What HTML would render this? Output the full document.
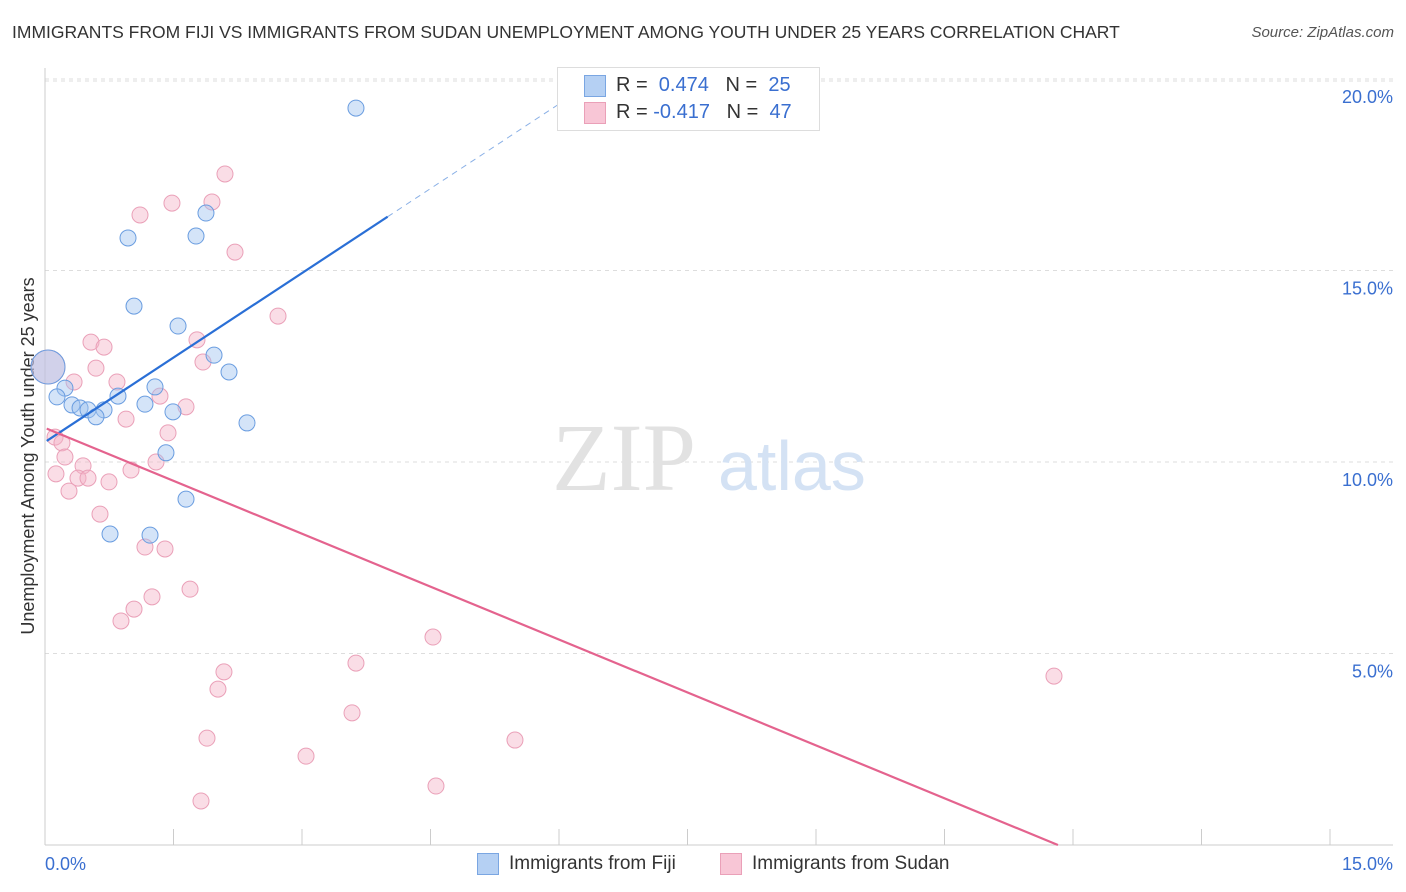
<!DOCTYPE html>
<html><head><meta charset="utf-8"><style>
body{margin:0;background:#fff;font-family:"Liberation Sans",sans-serif;}
#wrap{position:relative;width:1406px;height:892px;overflow:hidden}
.t{position:absolute;white-space:nowrap}
</style></head><body>
<div id="wrap">
<div class="t" style="left:12px;top:22px;font-size:17.5px;color:#333">IMMIGRANTS FROM FIJI VS IMMIGRANTS FROM SUDAN UNEMPLOYMENT AMONG YOUTH UNDER 25 YEARS CORRELATION CHART</div>
<div class="t" style="right:12px;top:24px;font-size:15px;color:#555;font-style:italic">Source: ZipAtlas.com</div>
<svg id="svg" width="1406" height="892" style="position:absolute;left:0;top:0"></svg>
</div>
<script>
const fijiX=[3.630,1.879,0.969,1.763,1.039,1.553,1.973,2.148,1.284,0.233,0.140,0.852,0.315,0.409,0.502,0.689,1.167,1.494,0.595,2.358,1.412,1.646,0.759,1.226,0.035];
const fijiY=[19.24,16.50,15.85,15.90,14.07,13.55,12.79,12.35,11.96,11.93,11.70,11.72,11.49,11.41,11.36,11.36,11.51,11.31,11.18,11.02,10.24,9.03,8.12,8.09,12.48];
const sudanX=[2.101,1.949,1.109,1.482,2.218,2.720,1.774,0.537,0.689,1.844,0.595,0.339,0.840,1.342,1.646,0.946,1.436,0.117,0.198,0.233,1.296,0.444,1.004,0.128,0.385,0.502,0.747,0.280,0.642,1.167,1.401,1.693,1.249,1.039,0.887,4.529,3.630,2.089,2.019,3.584,1.891,5.486,3.047,4.564,1.821,11.778,0.035];
const sudanY=[17.52,16.79,16.45,16.76,15.48,13.81,13.19,13.13,13.00,12.61,12.45,12.09,12.09,11.72,11.44,11.12,10.76,10.65,10.50,10.13,10.00,9.90,9.79,9.69,9.58,9.58,9.48,9.24,8.64,7.78,7.73,6.68,6.48,6.16,5.85,5.43,4.75,4.52,4.07,3.45,2.79,2.74,2.32,1.54,1.15,4.41,12.48];
const yTicks=[5,10,15,20];
const yTickLabels=["5.0%","10.0%","15.0%","20.0%"];
const xTickLabels=["0.0%","15.0%"];
const fijiTrend=[10.52,1.471]; // intercept, slope
const sudanTrend=[10.89,-0.921];

const X=v=>45+v/15*1285;
const Y=v=>845-v/5*191.5;
const svg=document.getElementById('svg');
const NS='http://www.w3.org/2000/svg';
function mk(tag,attrs,name){const e=document.createElementNS(NS,tag);for(const k in attrs)e.setAttribute(k,attrs[k]);


svg.appendChild(e);return e;}
// grid
yTicks.forEach((v,i)=>{
mk('line',{x1:45,x2:1393,y1:Y(v),y2:Y(v),stroke:'#ddd','stroke-dasharray':'4,4'},'grid-line');
const t=mk('text',{x:1393,y:Y(v)+24,'text-anchor':'end','font-size':18,fill:'#3a6fd0','font-family':'Liberation Sans'},'y-tick-label');t.textContent=yTickLabels[i];
});
mk('line',{x1:45,x2:1393,y1:Y(20)+2,y2:Y(20)+2,stroke:'#ddd','stroke-dasharray':'4,4'},'grid-line');
mk('line',{x1:45,x2:45,y1:68,y2:845,stroke:'#ccc'},'y-axis-line');
mk('line',{x1:45,x2:1393,y1:845,y2:845,stroke:'#ccc'},'x-axis-line');
for(let i=0;i<=10;i++){mk('line',{x1:X(i*1.5),x2:X(i*1.5),y1:829,y2:845,stroke:'#ccc'},'x-tick');}
let t=mk('text',{x:45,y:870,'font-size':18,fill:'#3a6fd0','font-family':'Liberation Sans'},'x-tick-label');t.textContent=xTickLabels[0];
t=mk('text',{x:1393,y:870,'text-anchor':'end','font-size':18,fill:'#3a6fd0','font-family':'Liberation Sans'},'x-tick-label');t.textContent=xTickLabels[1];
t=mk('text',{x:0,y:0,'font-size':18,fill:'#333','font-family':'Liberation Sans',transform:'translate(34,456) rotate(-90)','text-anchor':'middle'},'y-axis-title');t.textContent='Unemployment Among Youth under 25 years';
// watermark
t=mk('text',{x:552,y:490,'font-size':96,fill:'#e2e2e2','font-family':'Liberation Serif'},'watermark-zip');t.textContent='ZIP';
t=mk('text',{x:718,y:490,'font-size':70,fill:'#d4e2f4','font-family':'Liberation Sans'},'watermark-atlas');t.textContent='atlas';
// points
for(let i=0;i<sudanX.length;i++){const big=i===sudanX.length-1;
mk('circle',{cx:X(sudanX[i]),cy:Y(sudanY[i]),r:big?17:8,fill:'rgba(245,180,200,0.45)',stroke:'#eaa0b8','stroke-width':1},'sudan-point');}
for(let i=0;i<fijiX.length;i++){const big=i===fijiX.length-1;
mk('circle',{cx:X(fijiX[i]),cy:Y(fijiY[i]),r:big?17:8,fill:'rgba(160,195,240,0.45)',stroke:'#6a9de0','stroke-width':1},'fiji-point');}
// trends
const f=x=>fijiTrend[0]+fijiTrend[1]*x, s=x=>sudanTrend[0]+sudanTrend[1]*x;
mk('line',{x1:X(0.02),y1:Y(f(0.02)),x2:X(4.0),y2:Y(f(4.0)),stroke:'#2a6fd6','stroke-width':2.2},'fiji-trend-line');
mk('line',{x1:X(4.0),y1:Y(f(4.0)),x2:X(6.28),y2:Y(f(6.28)),stroke:'#8ab0e6','stroke-width':1,'stroke-dasharray':'6,5'},'fiji-trend-extension');
const sx0=-sudanTrend[0]/sudanTrend[1];
mk('line',{x1:X(0.02),y1:Y(s(0.02)),x2:X(sx0),y2:Y(0),stroke:'#e4638e','stroke-width':2.2},'sudan-trend-line');
</script>
<div class="t" style="left:557px;top:67px;width:261px;height:62px;border:1px solid #ddd;background:#fff"></div>
<div class="t" style="left:584px;top:75px;width:20px;height:20px;background:#b5d0f3;border:1px solid #7aa6e2"></div>
<div class="t" style="left:616px;top:74px;font-size:20px;color:#333">R = &nbsp;<span style="color:#3a6fd0">0.474</span> &nbsp;&nbsp;N = &nbsp;<span style="color:#3a6fd0">25</span></div>
<div class="t" style="left:584px;top:102px;width:20px;height:20px;background:#f8c6d6;border:1px solid #eaa0b8"></div>
<div class="t" style="left:616px;top:101px;font-size:20px;color:#333">R = <span style="color:#3a6fd0">-0.417</span> &nbsp;&nbsp;N = &nbsp;<span style="color:#3a6fd0">47</span></div>
<div class="t" style="left:477px;top:853px;width:20px;height:20px;background:#b5d0f3;border:1px solid #7aa6e2"></div>
<div class="t" style="left:509px;top:853px;font-size:19px;color:#333">Immigrants from Fiji</div>
<div class="t" style="left:720px;top:853px;width:20px;height:20px;background:#f8c6d6;border:1px solid #eaa0b8"></div>
<div class="t" style="left:752px;top:853px;font-size:19px;color:#333">Immigrants from Sudan</div>
</body></html>
